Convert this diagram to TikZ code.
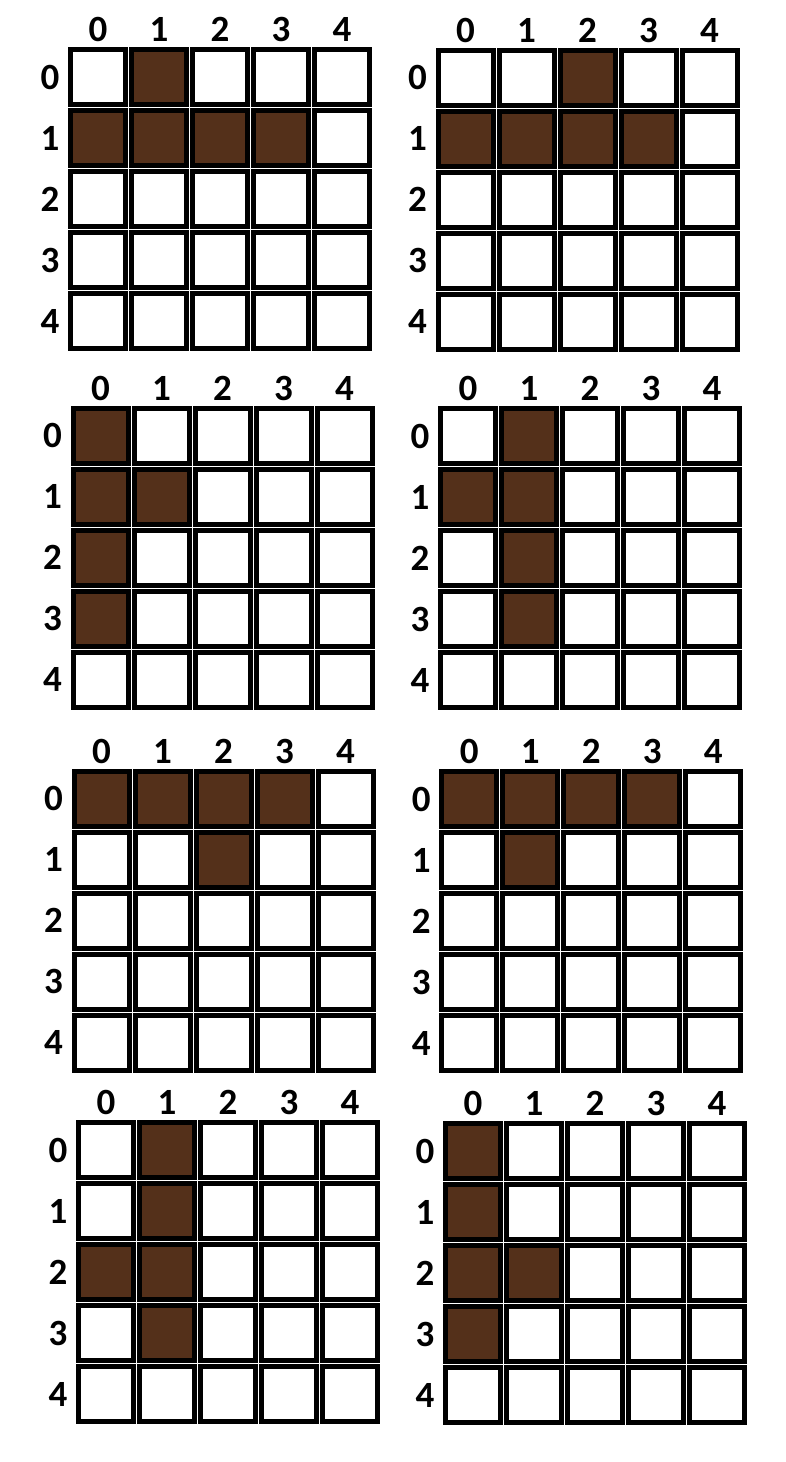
\documentclass[tikz,border=0pt]{standalone}
\usepackage{fontspec}
\setmainfont{Carlito}
\definecolor{cellbrown}{RGB}{84,48,26}
\tikzset{
  cell/.style={draw=black, line width=5pt, fill=white, minimum size=55pt, inner sep=0pt, outer sep=0pt, shape=rectangle},
  filled/.style={cell, fill=cellbrown},
  lbl/.style={inner sep=0pt, font=\fontsize{37}{37}\selectfont\bfseries}
}
\newcommand\mygrid[4]{%
  \foreach \i in {0,...,4} {
    \node[lbl] (#4c\i) at (#1+30+61*\i, #2-17.5) {\i};
    \node[lbl] (#4r\i) at (#1-18, #2+30+61*\i) {\i};
    \foreach \j in {0,...,4}
      \node[cell] (#4-\i-\j) at (#1+30+61*\j, #2+30+61*\i) {};
  }
  \foreach \r/\c in {#3}
    \node[filled] (#4f-\r-\c) at (#1+30+61*\c, #2+30+61*\r) {};
}
\begin{document}
\begin{tikzpicture}[x=1pt,y=-1pt]
\useasboundingbox (0,0) rectangle (786,1462);
\mygrid{68}{47}{0/1,1/0,1/1,1/2,1/3}{ga}
\mygrid{435.5}{47.5}{0/2,1/0,1/1,1/2,1/3}{gb}
\mygrid{70.5}{405.5}{0/0,1/0,1/1,2/0,3/0}{gc}
\mygrid{438}{406}{0/1,1/0,1/1,2/1,3/1}{gd}
\mygrid{71.5}{768.5}{0/0,0/1,0/2,0/3,1/2}{ge}
\mygrid{439.3}{769}{0/0,0/1,0/2,0/3,1/1}{gf}
\mygrid{76}{1120}{0/1,1/1,2/0,2/1,3/1}{gg}
\mygrid{443}{1121}{0/0,1/0,2/0,2/1,3/0}{gh}
\end{tikzpicture}
\end{document}
